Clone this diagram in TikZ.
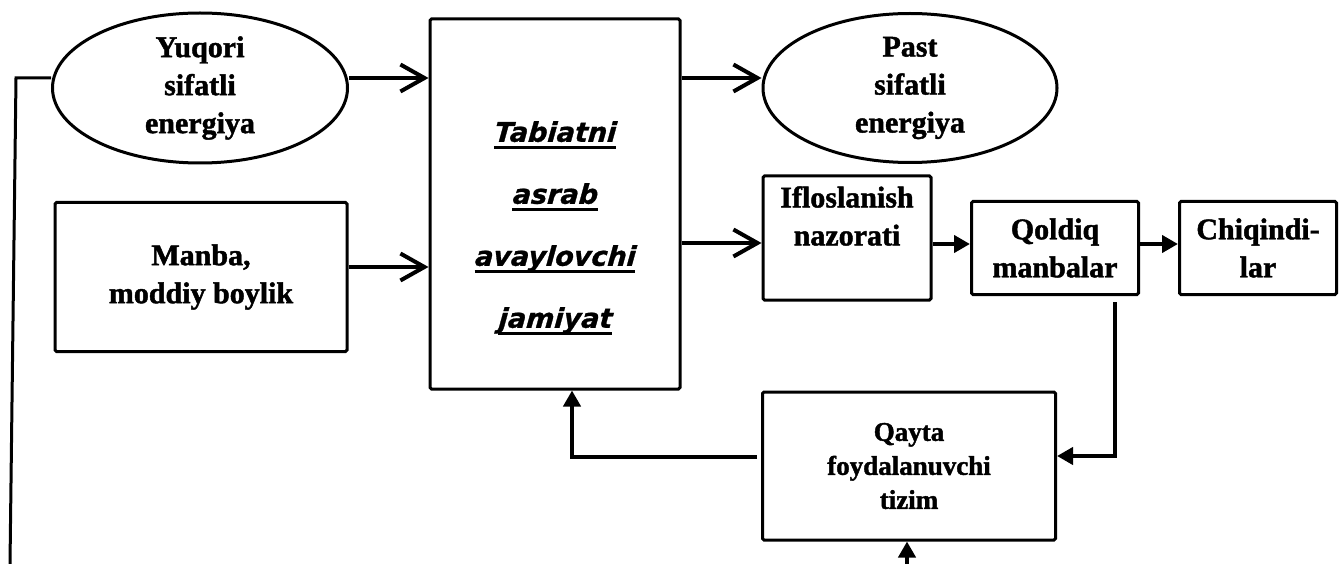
\documentclass[tikz,border=0pt]{standalone}
\usepackage{fontspec}
\setmainfont{Liberation Serif}[BoldFeatures={FakeBold=1.5}]
\newfontfamily\jamfont{DejaVu Sans}[BoldItalicFeatures={FakeBold=1,FakeSlant=0.08}]
\usetikzlibrary{shapes.geometric,arrows.meta}
\tikzstyle{every node}=[font=\bfseries\fontsize{30}{38}\selectfont,align=center,inner sep=0pt]
\tikzstyle{box}=[draw=black,line width=3pt,rounded corners=1.5pt,rectangle]
\tikzstyle{oval}=[draw=black,line width=3pt,ellipse]
\tikzstyle{bigarr}=[line width=4.5pt,-{Straight Barb[length=24pt,width=27pt,line width=4pt]}]
\tikzstyle{smallarr}=[line width=4pt,-{Triangle[length=16pt,width=17pt]}]
\tikzstyle{plain}=[line width=3pt]
\newcommand{\jamline}[1]{\setbox0\hbox{#1}\rlap{\rule[-7pt]{\wd0}{3pt}}\box0}

\begin{document}
\begin{tikzpicture}[x=1pt,y=-1pt]
				\useasboundingbox (0,0) rectangle (1341,564);
				% energiya
				\node[oval,minimum width=295pt,minimum height=150pt] (yuqori) at (200,88) {Yuqori\\sifatli\\energiya};
				\node[oval,minimum width=294pt,minimum height=149pt] (past) at (910,88) {Past\\sifatli\\energiya};
				% jamiyat
				\node[box,minimum width=250pt,minimum height=370pt] (jam) at (555,204) {};
				\node[font=\jamfont\bfseries\itshape\fontsize{27}{62}\selectfont] (jamtxt) at (555,228)
					{\jamline{Tabiatni}\\\jamline{asrab}\\\jamline{avaylovchi}\\\jamline{jamiyat}};
				\node[box,minimum width=292pt,minimum height=149pt] (manba) at (201,277) {Manba,\\moddiy boylik};
				% chiqindilar
				\node[box,minimum width=168pt,minimum height=124pt] (iflos) at (847,238) {};
				\node (iflostxt) at (847,216) {Ifloslanish\\nazorati};
				\node[box,minimum width=167pt,minimum height=93pt] (qoldiq) at (1055,248) {Qoldiq\\manbalar};
				\node[box,minimum width=157pt,minimum height=93pt] (chiq) at (1258,248) {Chiqindi-\\lar};
				\node[box,minimum width=293pt,minimum height=148pt,font=\bfseries\fontsize{27}{34}\selectfont] (qayta) at (909,466) {Qayta\\foydalanuvchi\\tizim};
				% chiziqlar
				\coordinate (lbot) at (10,564);
				\coordinate (ltop) at (16,78);
				\coordinate (qin) at (907,564);
				\draw[plain] (lbot) -- (ltop) -- (ltop -| yuqori.west);
				\draw[bigarr] ([yshift=10pt]yuqori.east) -- ([yshift=10pt]yuqori.east -| jam.west);
				\draw[bigarr] ([yshift=10pt]manba.east) -- ([yshift=10pt]manba.east -| jam.west);
				\draw[bigarr] ([yshift=10pt]past.west -| jam.east) -- ([yshift=10pt]past.west);
				\draw[bigarr] ([yshift=-5pt]iflos.west -| jam.east) -- ([yshift=-5pt]iflos.west);
				\draw[smallarr] ([yshift=4pt]qoldiq.west -| iflos.east) -- ([yshift=4pt]qoldiq.west);
				\draw[smallarr] ([yshift=4pt]qoldiq.east) -- ([yshift=4pt]chiq.west);
				\draw[smallarr] (qoldiq.south east) ++(-25,6) |- ([yshift=10pt]qayta.east);
				\draw[smallarr] ([yshift=9pt,xshift=-4pt]qayta.west) -| ([xshift=17pt]jam.south);
				\draw[smallarr] (qin) -- (qin |- qayta.south);
\end{tikzpicture}
\end{document}
